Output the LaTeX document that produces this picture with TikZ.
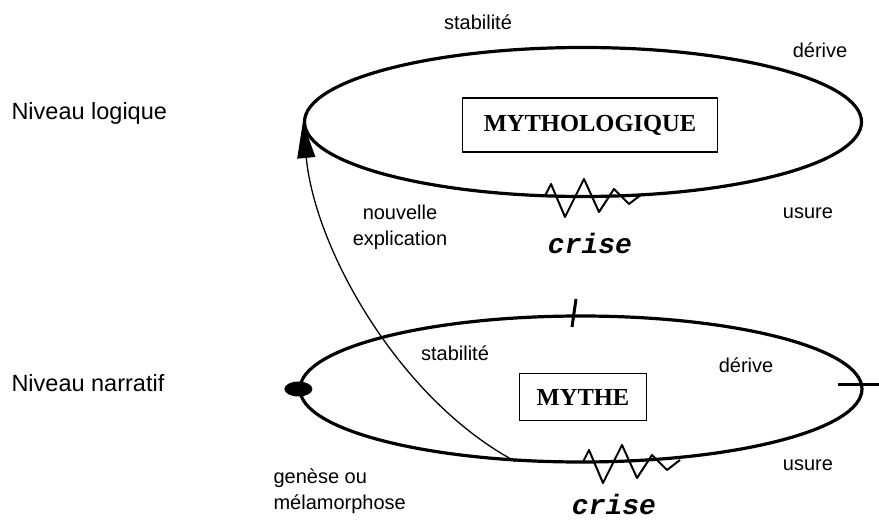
\documentclass[tikz,border=0pt]{standalone}
\usepackage{fontspec}
\setmainfont{Liberation Sans}
\newfontfamily\titlefont{Liberation Serif}
\newfontfamily\crisefont{Liberation Mono}
\usetikzlibrary{shapes.geometric,arrows.meta}

\begin{document}
\begin{tikzpicture}
    [x=1pt,y=-1pt,
      every node/.style={font=\fontsize{20}{26}\selectfont},
      level/.style={ellipse,draw,line width=3.2pt,inner sep=0pt},
      levelname/.style={anchor=west,font=\fontsize{23.5}{28}\selectfont},
      titlebox/.style={draw,line width=1.6pt,inner sep=0pt,font=\fontsize{24.5}{28}\selectfont\titlefont\bfseries},
      crisetext/.style={inner sep=1pt,font=\fontsize{28}{32}\selectfont\crisefont\bfseries\itshape},
      tickmark/.style={line width=3pt},
      wave/.pic={\draw[line width=2pt,line join=round]
        (0,0) -- (6,-12) -- (20,21) -- (39,-17) -- (54,16) -- (69,-7) -- (84,8) -- (97,-2);}]
      \useasboundingbox (0,0) rectangle (879,521);

      % niveau logique
      \node[level,minimum width=557pt,minimum height=149pt] (logique) at (583,122) {};
      \node[titlebox,minimum width=255pt,minimum height=54pt] (mytho) at (590,125) {MYTHOLOGIQUE};
      \node[levelname] (nivlog) at (8,113) {Niveau logique};
      \node (stab1) at (478,22) {stabilité};
      \node (der1) at (820,50) {dérive};
      \node (us1) at (808,213) {usure};
      \node[crisetext] (crise1) at (590,243) {crise};
      \node[align=center] (nouv) at (400,227) {nouvelle\\explication};
      \pic at (545,196) {wave};

      % niveau narratif
      \node[level,minimum width=562pt,minimum height=146pt] (narratif) at (581,389) {};
      \node[titlebox,minimum width=127pt,minimum height=47pt] (mythe) at (583,397) {MYTHE};
      \node[levelname] (nivnar) at (8,383) {Niveau narratif};
      \node (stab2) at (455,353) {stabilité};
      \node (der2) at (746,365) {dérive};
      \node (us2) at (808,465) {usure};
      \node[crisetext] (crise2) at (614,504) {crise};
      \node[anchor=west,align=left] (genese) at (270,491) {genèse ou\\mélamorphose};
      \pic at (583,462) {wave};

      \fill (narratif.west) ellipse (14pt and 7.5pt);
      \draw[tickmark] (576,299) -- (572,327);
      \draw[tickmark] (838,385) -- (879,385);

      % nouvelle explication
      \draw[line width=1.3pt,-{Triangle[length=36pt,width=18pt]}]
        (narratif.228) .. controls (400,400) and (315,250) .. (logique.west);
\end{tikzpicture}
\end{document}
